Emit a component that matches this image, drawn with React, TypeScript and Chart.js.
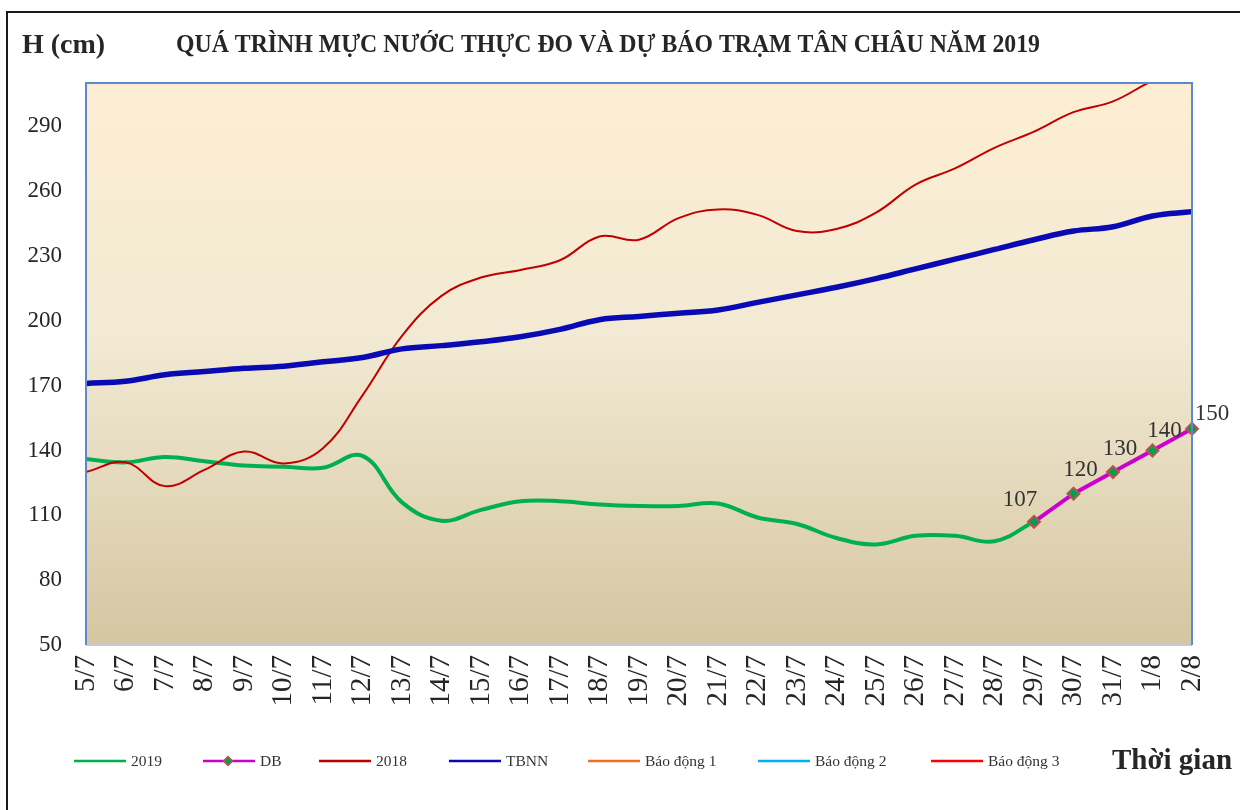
import React, { useEffect, useRef } from "react";
import { Chart, registerables } from "chart.js";

Chart.register(...registerables);

const categories = [
  "5/7", "6/7", "7/7", "8/7", "9/7", "10/7", "11/7", "12/7", "13/7", "14/7",
  "15/7", "16/7", "17/7", "18/7", "19/7", "20/7", "21/7", "22/7", "23/7", "24/7",
  "25/7", "26/7", "27/7", "28/7", "29/7", "30/7", "31/7", "1/8", "2/8",
];

const series2019 = [
  136, 134.5, 137, 135, 133, 132.5, 132, 137.5, 116, 107.5,
  112.5, 116.5, 116.5, 115, 114.3, 114.3, 115.5, 109, 106, 99.5,
  96.5, 100.5, 100.5, 98, 107, null, null, null, null,
];

const seriesDB = [
  null, null, null, null, null, null, null, null, null, null,
  null, null, null, null, null, null, null, null, null, null,
  null, null, null, null, 107, 120, 130, 140, 150,
];

const series2018 = [
  130, 134.5, 123.5, 131, 139.5, 134, 141, 165.5, 193, 211.5,
  220, 223.5, 228, 239, 237.5, 247.5, 251.5, 249, 241.5, 242.5,
  250, 263, 270.5, 280, 287.5, 296.5, 301.5, 311, 318,
];

const seriesTBNN = [
  171, 172, 175, 176.5, 178, 179, 181, 183, 187, 188.5,
  190.3, 192.6, 196, 200.5, 202, 203.5, 205, 208.5, 212, 215.5,
  219.5, 224, 228.5, 233, 237.5, 241.5, 243.5, 248.5, 250.5,
];

const seriesAlarm1: (number | null)[] = [];
const seriesAlarm2: (number | null)[] = [];
const seriesAlarm3: (number | null)[] = [];

const yTicks = [50, 80, 110, 140, 170, 200, 230, 260, 290];
const yMin = 50;
const yMax = 310;

const TITLE = "QUÁ TRÌNH MỰC NƯỚC THỰC ĐO VÀ DỰ BÁO TRẠM TÂN CHÂU NĂM 2019";
const Y_LABEL = "H (cm)";
const X_LABEL = "Thời gian";

const SERIF = "'Liberation Serif', 'Times New Roman', serif";

// layout helpers (positions, not data)
const legendX = [74, 203, 319, 449, 588, 758, 931];
const dbLabelOffsets = [
  [-14, -22],
  [7, -24],
  [7, -23],
  [12, -20],
  [20, -15],
];

const decorPlugin = {
  id: "decor",
  beforeDraw(chart: any) {
    const { ctx, chartArea } = chart;
    const { left, top, right, bottom } = chartArea;
    ctx.save();
    ctx.fillStyle = "#ffffff";
    ctx.fillRect(0, 0, chart.width, chart.height);
    ctx.strokeStyle = "#1a1a1a";
    ctx.lineWidth = 2;
    ctx.beginPath();
    ctx.moveTo(7, 812);
    ctx.lineTo(7, 12);
    ctx.lineTo(1242, 12);
    ctx.stroke();
    const g = ctx.createLinearGradient(0, top, 0, bottom);
    g.addColorStop(0, "#fdeed2");
    g.addColorStop(0.45, "#f2ead4");
    g.addColorStop(1, "#d5c6a1");
    ctx.fillStyle = g;
    ctx.fillRect(left, top, right - left, bottom - top);
    ctx.restore();
  },
  afterDatasetsDraw(chart: any) {
    const { ctx, chartArea } = chart;
    const { left, top, right, bottom } = chartArea;
    ctx.save();
    ctx.lineWidth = 2;
    ctx.strokeStyle = "#c4c9d6";
    ctx.beginPath();
    ctx.moveTo(left, bottom);
    ctx.lineTo(right, bottom);
    ctx.stroke();
    ctx.strokeStyle = "#5b8ad0";
    ctx.beginPath();
    ctx.moveTo(left, bottom);
    ctx.lineTo(left, top);
    ctx.lineTo(right, top);
    ctx.lineTo(right, bottom);
    ctx.stroke();

    const dsIndex = chart.data.datasets.findIndex((d: any) => d.label === "DB");
    const meta = chart.getDatasetMeta(dsIndex);
    ctx.font = `23px ${SERIF}`;
    ctx.fillStyle = "#333333";
    ctx.textAlign = "center";
    ctx.textBaseline = "middle";
    let k = 0;
    meta.data.forEach((pt: any, i: number) => {
      const v = seriesDB[i];
      if (v === null || v === undefined) return;
      const off = dbLabelOffsets[k] || [0, -20];
      k++;
      ctx.fillText(String(v), pt.x + off[0], pt.y + off[1]);
    });
    ctx.restore();
  },
  afterDraw(chart: any) {
    const { ctx } = chart;
    ctx.save();
    ctx.fillStyle = "#262626";
    ctx.textBaseline = "middle";
    ctx.font = `bold 28px ${SERIF}`;
    ctx.textAlign = "left";
    ctx.fillText(Y_LABEL, 22, 46);

    ctx.font = `bold 25px ${SERIF}`;
    const w = ctx.measureText(TITLE).width;
    const targetW = 864;
    ctx.save();
    ctx.translate(176, 46);
    ctx.scale(targetW / w, 1);
    ctx.fillText(TITLE, 0, 0);
    ctx.restore();

    const ly = 761;
    chart.data.datasets.forEach((ds: any, i: number) => {
      const x0 = legendX[i];
      ctx.strokeStyle = ds.borderColor;
      ctx.lineWidth = 2.5;
      ctx.beginPath();
      ctx.moveTo(x0, ly);
      ctx.lineTo(x0 + 52, ly);
      ctx.stroke();
      if (ds.label === "DB") {
        const cx = x0 + 25;
        const r = 4.5;
        ctx.beginPath();
        ctx.moveTo(cx, ly - r);
        ctx.lineTo(cx + r, ly);
        ctx.lineTo(cx, ly + r);
        ctx.lineTo(cx - r, ly);
        ctx.closePath();
        ctx.fillStyle = ds.pointBackgroundColor;
        ctx.fill();
        ctx.strokeStyle = ds.pointBorderColor;
        ctx.lineWidth = 1.5;
        ctx.stroke();
      }
      ctx.fillStyle = "#333333";
      ctx.font = `15.5px ${SERIF}`;
      ctx.textAlign = "left";
      ctx.fillText(ds.label, x0 + 57, ly + 1);
    });

    ctx.fillStyle = "#262626";
    ctx.font = `bold 29px ${SERIF}`;
    ctx.textAlign = "left";
    ctx.fillText(X_LABEL, 1112, 762);
    ctx.restore();
  },
};

export default function App() {
  const ref = useRef<HTMLCanvasElement | null>(null);

  useEffect(() => {
    if (!ref.current) return;
    const chart = new Chart(ref.current, {
      type: "line",
      data: {
        labels: categories,
        datasets: [
          {
            label: "2019",
            data: series2019,
            borderColor: "#00b050",
            backgroundColor: "#00b050",
            borderWidth: 4,
            pointRadius: 0,
            tension: 0.4,
            order: 4,
            spanGaps: false,
          },
          {
            label: "DB",
            data: seriesDB,
            borderColor: "#cc00cc",
            backgroundColor: "#cc00cc",
            borderWidth: 4,
            pointStyle: "rectRot",
            pointRadius: 6,
            pointBackgroundColor: "#00a050",
            pointBorderColor: "#c0504d",
            pointBorderWidth: 2,
            tension: 0,
            order: 3,
          },
          {
            label: "2018",
            data: series2018,
            borderColor: "#c00000",
            backgroundColor: "#c00000",
            borderWidth: 2,
            pointRadius: 0,
            tension: 0.4,
            order: 2,
          },
          {
            label: "TBNN",
            data: seriesTBNN,
            borderColor: "#0a0ab4",
            backgroundColor: "#0a0ab4",
            borderWidth: 5.5,
            pointRadius: 0,
            tension: 0.4,
            order: 1,
          },
          {
            label: "Báo động 1",
            data: seriesAlarm1,
            borderColor: "#f07020",
            backgroundColor: "#f07020",
            borderWidth: 2,
            pointRadius: 0,
            order: 5,
          },
          {
            label: "Báo động 2",
            data: seriesAlarm2,
            borderColor: "#00b0f0",
            backgroundColor: "#00b0f0",
            borderWidth: 2,
            pointRadius: 0,
            order: 6,
          },
          {
            label: "Báo động 3",
            data: seriesAlarm3,
            borderColor: "#ff0000",
            backgroundColor: "#ff0000",
            borderWidth: 2,
            pointRadius: 0,
            order: 7,
          },
        ],
      },
      options: {
        responsive: false,
        devicePixelRatio: 1,
        animation: false,
        events: [],
        layout: { padding: { left: 0, top: 83, right: 48, bottom: 0 } },
        plugins: {
          legend: { display: false },
          title: { display: false },
          tooltip: { enabled: false },
        },
        scales: {
          x: {
            type: "category",
            offset: false,
            grid: { display: false, drawTicks: false },
            border: { display: false },
            ticks: {
              autoSkip: false,
              maxRotation: 90,
              minRotation: 90,
              padding: 10,
              color: "#262626",
              font: { family: SERIF, size: 29 },
            },
            afterFit: (s: any) => {
              s.height = 165;
            },
          },
          y: {
            min: yMin,
            max: yMax,
            grid: { display: false, drawTicks: false },
            border: { display: false },
            ticks: {
              padding: 24,
              color: "#262626",
              font: { family: SERIF, size: 23 },
            },
            afterBuildTicks: (axis: any) => {
              axis.ticks = yTicks.map((v) => ({ value: v }));
            },
            afterFit: (s: any) => {
              s.width = 86;
            },
          },
        },
      },
      plugins: [decorPlugin],
    });
    return () => chart.destroy();
  }, []);

  return (
    <div style={{ position: "fixed", left: 0, top: 0, width: 1240, height: 810, background: "#fff" }}>
      <canvas ref={ref} width={1240} height={810} style={{ display: "block" }} />
    </div>
  );
}
